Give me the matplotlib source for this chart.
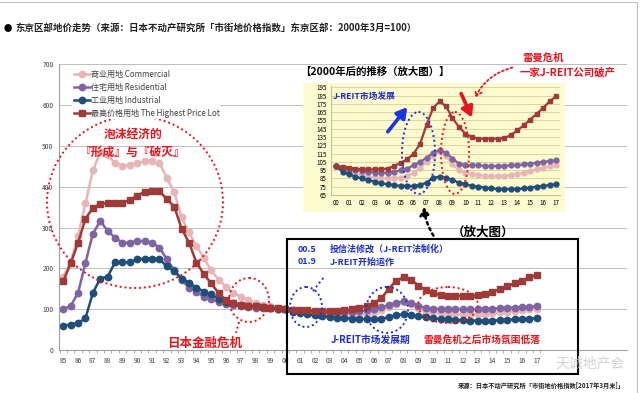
import numpy as np
import matplotlib
matplotlib.use("Agg")
import matplotlib.pyplot as plt
from matplotlib.patches import Ellipse, Rectangle

plt.rcParams['font.family'] = ['Noto Sans CJK SC', 'DejaVu Sans']

# ---------------- data (semi-annual, 1985 .. 2017) ----------------
year_labels = ['85', '86', '87', '88', '89', '90', '91', '92', '93', '94', '95', '96', '97', '98', '99',
               '00', '01', '02', '03', '04', '05', '06', '07', '08', '09', '10', '11', '12', '13', '14',
               '15', '16', '17']
inset_labels = year_labels[15:]
series_names = ['商业用地 Commercial', '住宅用地 Residential', '工业用地 Industrial',
                '最高价格用地 The Highest Price Lot']

commercial = [180, 215, 280, 359, 440, 485, 477, 458, 452, 453, 458, 462, 462, 458, 422, 386,
              325, 288, 255, 225, 195, 172, 155, 140, 130, 122, 116, 111, 107, 103,
              100, 97, 94, 91, 89, 87, 86, 85, 85, 85, 86, 88, 92, 98, 105, 112, 117, 112,
              102, 95, 92, 90, 89, 88, 88, 88, 88, 89, 90, 92, 94, 96, 98, 100, 101]
residential = [100, 108, 140, 214, 285, 316, 292, 275, 263, 263, 267, 267, 263, 251, 222, 196,
               171, 153, 143, 130, 124, 118, 112, 110, 108, 106, 104, 103, 102, 101,
               100, 98, 96, 95, 94, 93, 92, 92, 92, 93, 95, 97, 101, 105, 110, 116, 119, 116,
               109, 103, 101, 101, 101, 100, 100, 100, 100, 101, 101, 102, 103, 104, 105, 106, 107]
industrial = [60, 62, 66, 78, 140, 175, 180, 215, 215, 215, 222, 224, 224, 222, 205, 194,
              175, 165, 153, 143, 136, 126, 118, 114, 111, 109, 107, 105, 103, 101,
              100, 93, 90, 87, 85, 83, 81, 79, 78, 77, 76, 76, 76, 77, 80, 86, 87, 86,
              83, 80, 78, 76, 75, 74, 73, 72, 72, 72, 72, 73, 74, 75, 76, 77, 78]
highest = [169, 212, 263, 322, 348, 358, 360, 360, 360, 368, 378, 388, 389, 389, 370, 351,
           297, 263, 214, 186, 163, 139, 122, 114, 111, 109, 108, 106, 104, 102,
           100, 99, 98, 97, 96, 96, 96, 96, 97, 100, 104, 108, 115, 127, 150, 170, 178, 172,
           158, 147, 139, 135, 133, 133, 133, 133, 134, 137, 143, 149, 156, 163, 170, 178, 184]

colors = ['#E6B5B5', '#8064A2', '#1F4E79', '#9E3B38']
markers = ['o', 'o', 'o', 's']
series = [commercial, residential, industrial, highest]

W, H = 640, 393
fig = plt.figure(figsize=(W / 100, H / 100), dpi=100)

def frac(x0, y0, x1, y1):
    return [x0 / W, 1 - y1 / H, (x1 - x0) / W, (y1 - y0) / H]

# ---------------- main chart ----------------
ax = fig.add_axes(frac(59, 64.3, 627, 350))
ax.set_zorder(1)
xs = np.arange(len(commercial)) * 0.5
handles = []
for s, c, m, n in zip(series, colors, markers, series_names):
    h, = ax.plot(xs, s, color=c, lw=1.8, marker=m, ms=4.6, mec=c, mfc=c, label=n)
    handles.append(h)
ax.set_xlim(-0.29, 38.1)
ax.set_ylim(0, 700)
ax.set_yticks(np.arange(0, 701, 100))
ax.grid(axis='y', color='#BFBFBF', lw=0.7)
ax.set_axisbelow(True)
ax.set_xticks(np.arange(len(year_labels)))
ax.set_xticklabels(year_labels, fontsize=4.8, color='#404040')
ax.set_xticks(np.arange(-0.25, 32.5, 0.5), minor=True)
ax.tick_params(axis='x', which='major', length=0, pad=5)
ax.tick_params(axis='x', which='minor', length=2, color='#A0A0A0')
ax.tick_params(axis='y', length=0, labelsize=4.8, labelcolor='#404040', pad=4)
for sp in ['top', 'right']:
    ax.spines[sp].set_visible(False)
ax.spines['left'].set_color('#A0A0A0')
ax.spines['bottom'].set_color('#A0A0A0')

# ---------------- inset panel ----------------
panel = fig.add_axes(frac(303, 83, 565, 212))
panel.set_facecolor('#FFFBD0')
panel.set_xticks([]); panel.set_yticks([])
for sp in panel.spines.values():
    sp.set_visible(False)
panel.set_zorder(2)

ins = fig.add_axes(frac(331, 85.7, 560, 195))
ins.set_zorder(3)
ins.set_facecolor('#FFFBD0')
xi = np.arange(35) * 0.5
for s, c, m in zip(series, colors, markers):
    ins.plot(xi, s[30:], color=c, lw=1.6, marker=m, ms=3.5, mec=c, mfc=c)
ins.set_xlim(-0.39, 17.31)
ins.set_ylim(65, 197)
ins.set_yticks(np.arange(65, 196, 10))
ins.tick_params(axis='y', length=0, labelsize=4.5, pad=3)
ins.set_xticks(np.arange(len(inset_labels)))
ins.set_xticklabels(inset_labels, fontsize=4.5)
ins.tick_params(axis='x', length=0, pad=3)
ins.grid(axis='y', color='#D6D09A', lw=0.6)
ins.set_axisbelow(True)
for sp in ['top', 'right']:
    ins.spines[sp].set_visible(False)
ins.spines['left'].set_color('#C8C090')
ins.spines['bottom'].set_color('#C8C090')

# ---------------- overlay annotations (pixel coords) ----------------
ov = fig.add_axes([0, 0, 1, 1])
ov.set_zorder(5)
ov.set_xlim(0, W); ov.set_ylim(H, 0)
ov.axis('off')
ov.patch.set_alpha(0)

RED = '#E8141B'
BLUE = '#1F2FC9'

# frame
ov.plot([0, 637, 637], [2, 2, 393], color='#C0C0C0', lw=0.8)

ov.text(4, 28, '●', fontsize=6, va='center', color='black')
ov.text(15, 28, '东京区部地价走势（来源：日本不动产研究所「市街地价格指数」东京区部：2000年3月=100）',
        fontsize=6.8, fontweight='bold', va='center', color='#202020')

def ell(cx, cy, w, h, color, lw=1.4):
    ov.add_patch(Ellipse((cx, cy), w, h, fill=False, ls=(0, (1, 1.5)), lw=lw, ec=color, zorder=1))

ell(135, 202, 176, 172, RED)
ell(249, 300, 40, 44, RED)
ov.plot([239, 236], [322, 333], color=RED, ls=(0, (1, 1.5)), lw=1.4)
ell(306, 307, 32, 40, BLUE)
ov.plot([313, 324], [291, 277], color=BLUE, ls=(0, (1, 1.5)), lw=1.4)
ell(387, 310, 42, 46, BLUE)
ell(448, 305, 60, 36, RED)
ell(418.5, 153, 33, 82, BLUE)
ell(455, 153, 28, 82, RED)

leg = ov.legend(handles, series_names, loc='upper left', bbox_to_anchor=(68 / W, 1 - 64 / H),
                bbox_transform=fig.transFigure,
                fontsize=5.8, frameon=True, framealpha=1, facecolor='white', edgecolor='none',
                handlelength=2.0, handletextpad=0.1, labelspacing=0.5, borderpad=0.2)
leg.set_zorder(6)
for t in leg.get_texts():
    t.set_color('#404040')

ov.add_patch(Rectangle((287, 239), 291, 135, fill=False, ec='black', lw=1.5))

ov.text(133, 134, '泡沫经济的', fontsize=8.5, fontweight='bold', color=RED, ha='center', va='center', zorder=7)
ov.text(133, 152, '『形成』与『破灭』', fontsize=8.5, fontweight='bold', color=RED, ha='center', va='center', zorder=7)
ov.text(205, 343, '日本金融危机', fontsize=9, fontweight='bold', color=RED, ha='center', va='center')

ov.text(298, 249, '00.5', fontsize=6.5, fontweight='bold', color=BLUE, va='center')
ov.text(330, 249, '投信法修改（J-REIT法制化）', fontsize=6.5, fontweight='bold', color=BLUE, va='center')
ov.text(298, 262, '01.9', fontsize=6.5, fontweight='bold', color=BLUE, va='center')
ov.text(330, 262, 'J-REIT开始运作', fontsize=6.5, fontweight='bold', color=BLUE, va='center')
ov.text(371, 340, 'J-REIT市场发展期', fontsize=7, fontweight='bold', color=BLUE, ha='center', va='center')
ov.text(482, 340, '雷曼危机之后市场氛围低落', fontsize=7, fontweight='bold', color=RED, ha='center', va='center')
ov.text(483, 232, '（放大图）', fontsize=9, fontweight='bold', color='black', ha='center', va='center')

ov.text(300, 72, '【2000年后的推移（放大图）】', fontsize=7.5, fontweight='bold', color='black', va='center')
ov.text(333, 96, 'J-REIT市场发展', fontsize=6.3, fontweight='bold', color=BLUE, va='center')
ov.text(543, 58, '雷曼危机', fontsize=7.5, fontweight='bold', color=RED, ha='center', va='center')
ov.text(568, 72, '一家J-REIT公司破产', fontsize=7.5, fontweight='bold', color=RED, ha='center', va='center')

ov.annotate('', xy=(409, 105), xytext=(386, 134),
            arrowprops=dict(arrowstyle='-|>,head_width=0.35,head_length=0.6', lw=2.6, color='#1A35E0'))
ov.annotate('', xy=(473, 120), xytext=(460, 91),
            arrowprops=dict(arrowstyle='-|>,head_width=0.35,head_length=0.6', lw=2.6, color=RED))
ov.annotate('', xy=(474, 100), xytext=(515, 67),
            arrowprops=dict(arrowstyle='->,head_width=0.25,head_length=0.4', lw=1.3, color=RED,
                            ls=(0, (1, 1.5)), connectionstyle='arc3,rad=0.25'))
ov.annotate('', xy=(424, 204), xytext=(435, 238),
            arrowprops=dict(arrowstyle='-|>,head_width=0.3,head_length=0.5', lw=1.8, color='black',
                            ls=(0, (1, 1.5)), connectionstyle='arc3,rad=-0.15'))

ov.text(625, 385, '来源：日本不动产研究所「市街地价格指数[2017年3月末]」', fontsize=4.5,
        fontweight='bold', color='#202020', ha='right', va='center')
ov.text(590, 363, '天诚地产会', fontsize=10, color='#C8C8C8', ha='center', va='center', alpha=0.8)

fig.savefig('out.png', dpi=100)
